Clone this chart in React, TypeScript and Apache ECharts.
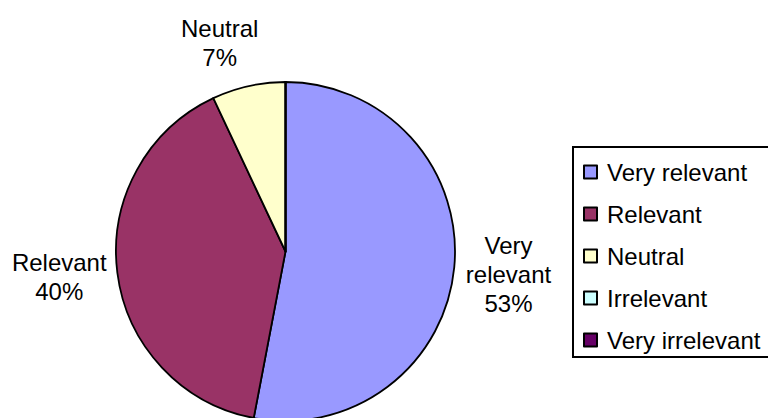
import React, { useEffect, useRef } from "react";
import * as echarts from "echarts";

const categories = ["Very relevant", "Relevant", "Neutral", "Irrelevant", "Very irrelevant"];
const labelNames = ["Very\nrelevant", "Relevant", "Neutral", "", ""];
const values = [53, 40, 7, 0, 0];
const colors = ["#9999FF", "#993366", "#FFFFCC", "#CCFFFF", "#660066"];

const CX = 285.5;
const CY = 251.5;
const R = 169.5;
const LABEL_DIST = 224;
const FONT = "'Liberation Sans', Arial, Helvetica, sans-serif";

export default function App() {
  const ref = useRef<HTMLDivElement>(null);
  useEffect(() => {
    document.body.style.margin = "0";
    const chart = echarts.init(ref.current!, undefined, { renderer: "svg" });
    const total = values.reduce((a, b) => a + b, 0);
    // small placement tweaks so labels sit where the original layout put them
    const nudges = [
      { dx: 0, dy: 2 },
      { dx: -4, dy: -3 },
      { dx: -17, dy: 10 },
      { dx: 0, dy: 0 },
      { dx: 0, dy: 0 },
    ];
    let acc = 0;
    const labelPos = values.map((v, i) => {
      const mid = ((acc + v / 2) / total) * Math.PI * 2;
      acc += v;
      return {
        x: CX + LABEL_DIST * Math.sin(mid) + nudges[i].dx,
        y: CY - LABEL_DIST * Math.cos(mid) + nudges[i].dy,
      };
    });
    chart.setOption({
      animation: false,
      backgroundColor: "#ffffff",
      legend: {
        orient: "vertical",
        left: 573,
        top: 147,
        data: categories,
        icon: "rect",
        itemWidth: 13,
        itemHeight: 13,
        itemGap: 18,
        padding: [13, 24, 5, 10],
        borderColor: "#000",
        borderWidth: 2,
        itemStyle: { borderColor: "#000", borderWidth: 2 },
        textStyle: {
          fontFamily: FONT,
          fontSize: 24,
          color: "#000",
          lineHeight: 24,
          padding: [0, 0, 0, 5],
        },
        selectedMode: false,
      },
      series: [
        {
          type: "pie",
          center: [CX, CY],
          radius: R,
          startAngle: 90,
          clockwise: true,
          avoidLabelOverlap: false,
          itemStyle: { borderColor: "#000", borderWidth: 1.8 },
          label: {
            show: true,
            position: "outside",
            fontFamily: FONT,
            fontSize: 24,
            lineHeight: 29,
            color: "#000",
            align: "center",
            formatter: (p: any) => `${labelNames[p.dataIndex]}\n${Math.round(p.percent)}%`,
          },
          labelLine: { show: false },
          labelLayout: (p: any) => ({
            x: labelPos[p.dataIndex].x,
            y: labelPos[p.dataIndex].y,
            align: "center",
            verticalAlign: "middle",
          }),
          emphasis: { disabled: true },
          data: categories.map((name, i) => ({
            name,
            value: values[i],
            itemStyle: { color: colors[i] },
            label: { show: values[i] > 0 },
          })),
        },
      ],
    });
    return () => chart.dispose();
  }, []);
  return (
    <div
      ref={ref}
      style={{ position: "absolute", left: 0, top: 0, width: 768, height: 418 }}
    />
  );
}
